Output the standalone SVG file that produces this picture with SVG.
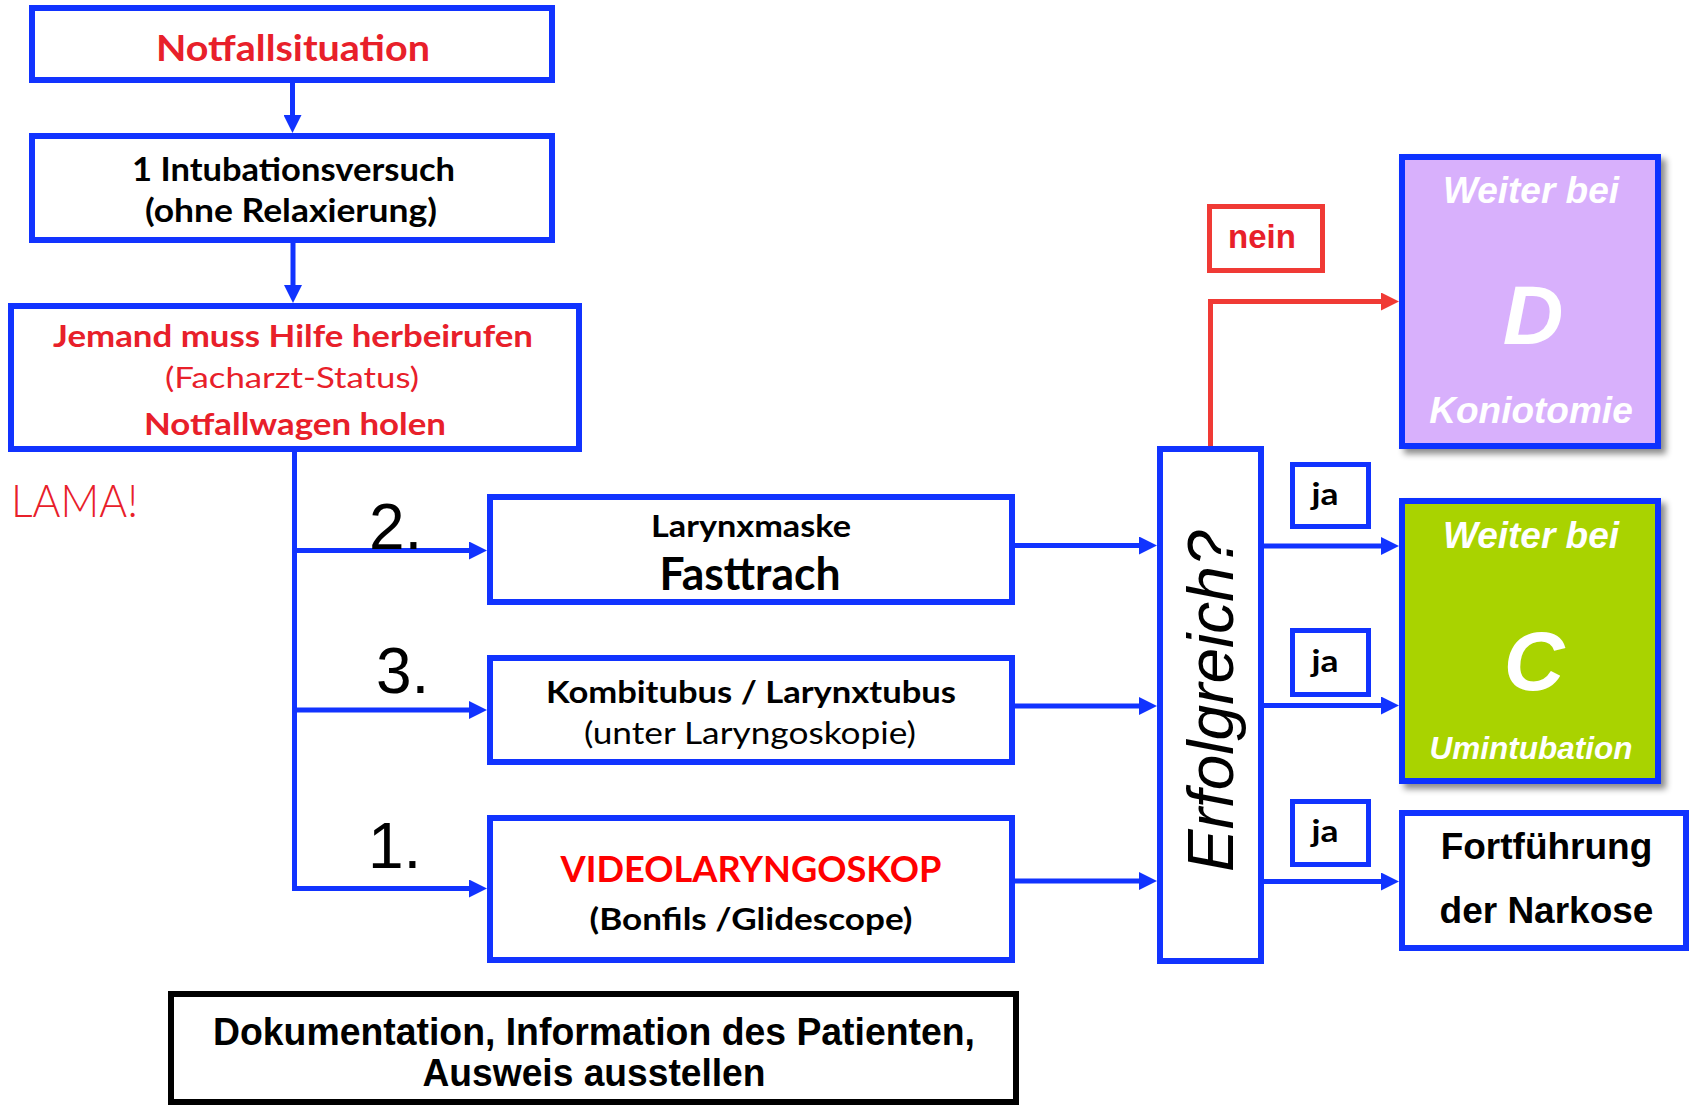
<svg xmlns="http://www.w3.org/2000/svg" width="1689" height="1108" viewBox="0 0 1689 1108">
<style>
.box{fill:#fff;stroke:#1133FF;stroke-width:6}
.lbl{fill:#fff;stroke:#1133FF;stroke-width:5}
.conn{fill:none;stroke:#1133FF;stroke-width:5}
.rconn{fill:none;stroke:#F03A35;stroke-width:5}
.cal{font-family:Lato,"Open Sans","Noto Sans",sans-serif}
.ar{font-family:"Liberation Sans",Arial,sans-serif}
.b{font-weight:bold}
.mid{text-anchor:middle}
.red{fill:#E8202A}
.blk{fill:#000}
.wbi{fill:#fff;font-weight:bold;font-style:italic}
</style>
<defs>
<marker id="ab" markerUnits="userSpaceOnUse" markerWidth="18" markerHeight="18" viewBox="0 0 18 18" refX="9" refY="9" orient="auto"><path d="M0,0 L18,9 L0,18 Z" fill="#1133FF"/></marker>
<marker id="ar" markerUnits="userSpaceOnUse" markerWidth="18" markerHeight="18" viewBox="0 0 18 18" refX="9" refY="9" orient="auto"><path d="M0,0 L18,9 L0,18 Z" fill="#F03A35"/></marker>
<filter id="sh" x="-10%" y="-10%" width="130%" height="130%"><feDropShadow dx="5" dy="5" stdDeviation="3" flood-color="#000" flood-opacity="0.45"/></filter>
</defs>

<g id="connectors">
<path class="conn" d="M292.5,83 V124" marker-end="url(#ab)"/>
<path class="conn" d="M293,243 V294" marker-end="url(#ab)"/>
<path class="conn" d="M294.5,449 V888.5 H478" marker-end="url(#ab)"/>
<path class="conn" d="M294.5,550.5 H478" marker-end="url(#ab)"/>
<path class="conn" d="M294.5,710 H478" marker-end="url(#ab)"/>
<path class="conn" d="M1015,545.5 H1148" marker-end="url(#ab)"/>
<path class="conn" d="M1015,706 H1148" marker-end="url(#ab)"/>
<path class="conn" d="M1015,881 H1148" marker-end="url(#ab)"/>
<path class="conn" d="M1262,546 H1390" marker-end="url(#ab)"/>
<path class="conn" d="M1262,705.5 H1390" marker-end="url(#ab)"/>
<path class="conn" d="M1262,881.5 H1390" marker-end="url(#ab)"/>
<path class="rconn" d="M1210.5,448 V301.5 H1390" marker-end="url(#ar)"/>
</g>

<g id="n-notfall">
<rect class="box" x="32" y="8" width="520" height="72"/>
<text class="cal b red mid" x="293" y="61" font-size="36" textLength="274" lengthAdjust="spacingAndGlyphs">Notfallsituation</text>
</g>

<g id="n-intubation">
<rect class="box" x="32" y="136" width="520" height="104"/>
<text class="cal b blk mid" x="293.5" y="181" font-size="32" textLength="323" lengthAdjust="spacingAndGlyphs">1 Intubationsversuch</text>
<text class="cal b blk mid" x="291" y="222" font-size="32" textLength="292" lengthAdjust="spacingAndGlyphs">(ohne Relaxierung)</text>
</g>

<g id="n-hilfe">
<rect class="box" x="11" y="306" width="568" height="143"/>
<text class="cal b red mid" x="293" y="347" font-size="31" textLength="480" lengthAdjust="spacingAndGlyphs">Jemand muss Hilfe herbeirufen</text>
<text class="cal red mid" x="292" y="388" font-size="29" textLength="254" lengthAdjust="spacingAndGlyphs">(Facharzt-Status)</text>
<text class="cal b red mid" x="295" y="435" font-size="31" textLength="302" lengthAdjust="spacingAndGlyphs">Notfallwagen holen</text>
</g>

<g id="n-lama">
<text class="cal red" x="11" y="517" font-size="45" font-weight="300" textLength="127" lengthAdjust="spacingAndGlyphs">LAMA!</text>
</g>

<g id="n-labels">
<text class="ar blk" x="369" y="549" font-size="64">2.</text>
<text class="ar blk" x="376" y="693" font-size="64">3.</text>
<text class="ar blk" x="368" y="868" font-size="64">1.</text>
</g>

<g id="n-larynxmaske">
<rect class="box" x="490" y="497" width="522" height="105"/>
<text class="cal b blk mid" x="751" y="537" font-size="31" textLength="200" lengthAdjust="spacingAndGlyphs">Larynxmaske</text>
<text class="cal b blk mid" x="750" y="590" font-size="45" textLength="181" lengthAdjust="spacingAndGlyphs">Fasttrach</text>
</g>

<g id="n-kombitubus">
<rect class="box" x="490" y="658" width="522" height="104"/>
<text class="cal b blk mid" x="751" y="703" font-size="31" textLength="410" lengthAdjust="spacingAndGlyphs">Kombitubus / Larynxtubus</text>
<text class="cal blk mid" x="750" y="744" font-size="31" textLength="332" lengthAdjust="spacingAndGlyphs">(unter Laryngoskopie)</text>
</g>

<g id="n-video">
<rect class="box" x="490" y="818" width="522" height="142"/>
<text class="cal b mid" fill="#FF0000" x="751" y="882" font-size="36" textLength="381" lengthAdjust="spacingAndGlyphs">VIDEOLARYNGOSKOP</text>
<text class="cal b blk mid" x="751" y="930" font-size="31" textLength="323" lengthAdjust="spacingAndGlyphs">(Bonfils /Glidescope)</text>
</g>

<g id="n-erfolgreich">
<rect class="box" x="1160" y="449" width="101" height="512"/>
<text class="ar blk" font-style="italic" font-size="64" transform="translate(1233,872) rotate(-90)">Erfolgreich?</text>
</g>

<g id="n-nein">
<rect fill="#fff" stroke="#F03A35" stroke-width="5" x="1209.5" y="206.5" width="113" height="64"/>
<text class="ar b red mid" x="1262" y="248" font-size="33">nein</text>
</g>

<g id="n-ja1">
<rect class="lbl" x="1292.5" y="464.5" width="76" height="62"/>
<text class="cal b blk mid" x="1325" y="505" font-size="30" textLength="27" lengthAdjust="spacingAndGlyphs">ja</text>
</g>
<g id="n-ja2">
<rect class="lbl" x="1292.5" y="630.5" width="76" height="64"/>
<text class="cal b blk mid" x="1325" y="672" font-size="30" textLength="27" lengthAdjust="spacingAndGlyphs">ja</text>
</g>
<g id="n-ja3">
<rect class="lbl" x="1292.5" y="801.5" width="76" height="63"/>
<text class="cal b blk mid" x="1325" y="842" font-size="30" textLength="27" lengthAdjust="spacingAndGlyphs">ja</text>
</g>

<g id="n-d">
<rect class="box" style="fill:#D8B0FC" filter="url(#sh)" x="1402" y="157" width="256" height="289"/>
<text class="ar wbi mid" x="1531" y="203" font-size="37">Weiter bei</text>
<text class="ar wbi mid" x="1533" y="344" font-size="84">D</text>
<text class="ar wbi mid" x="1531" y="423" font-size="37">Koniotomie</text>
</g>

<g id="n-c">
<rect class="box" style="fill:#A9D300" filter="url(#sh)" x="1402" y="501" width="256" height="280"/>
<text class="ar wbi mid" x="1531" y="548" font-size="37">Weiter bei</text>
<text class="ar wbi mid" x="1534" y="690" font-size="84">C</text>
<text class="ar wbi mid" x="1531" y="759" font-size="31.5">Umintubation</text>
</g>

<g id="n-fortfuehrung">
<rect class="box" x="1402" y="813" width="284" height="135"/>
<text class="ar b blk mid" x="1546.5" y="859" font-size="37">Fortführung</text>
<text class="ar b blk mid" x="1546.5" y="923" font-size="37">der Narkose</text>
</g>

<g id="n-doku">
<rect fill="#fff" stroke="#000" stroke-width="6" x="171" y="994" width="845" height="108"/>
<text class="ar b blk mid" x="594" y="1045" font-size="38" textLength="762" lengthAdjust="spacingAndGlyphs">Dokumentation, Information des Patienten,</text>
<text class="ar b blk mid" x="594" y="1086" font-size="38" textLength="343" lengthAdjust="spacingAndGlyphs">Ausweis ausstellen</text>
</g>
</svg>
